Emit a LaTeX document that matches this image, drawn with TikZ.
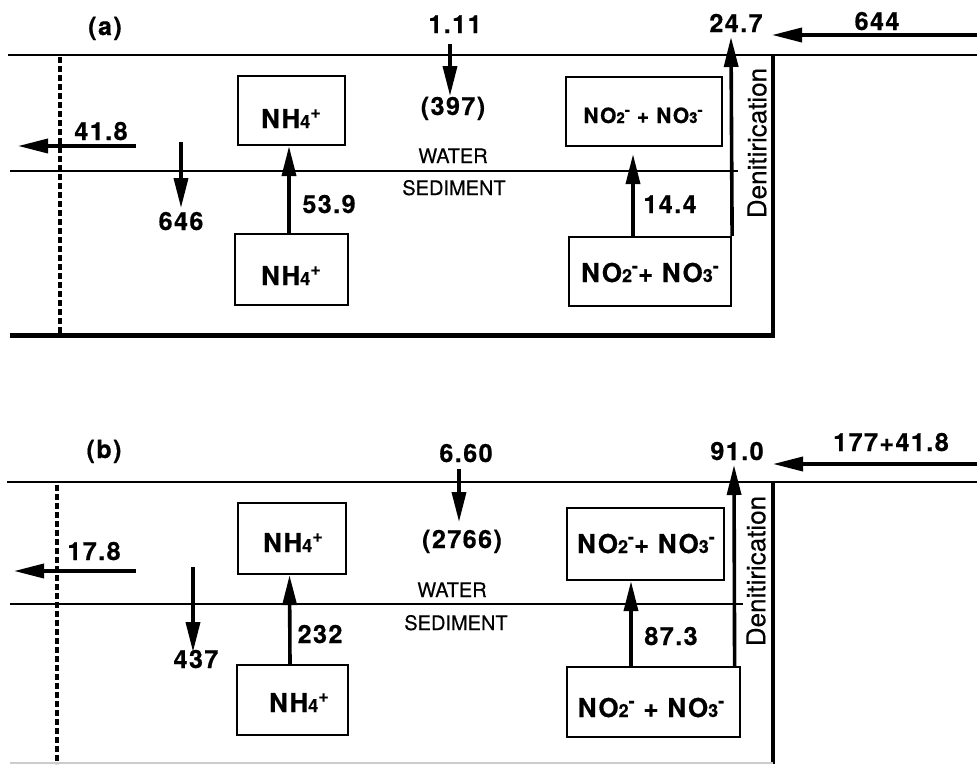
\documentclass[tikz,border=0pt]{standalone}
\usepackage{fontspec}
\setmainfont{TeX Gyre Heros}
\newfontfamily\lblfont[LetterSpace=6,FakeBold=0.6]{texgyreheros-bold.otf}
\newfontfamily\regfont[FakeBold=0.3]{texgyreheros-regular.otf}
\usetikzlibrary{arrows.meta}
\newcommand\smd[1]{{\fontsize{18pt}{18pt}\selectfont #1}}
\newcommand\sps[1]{\raisebox{10pt}{\fontsize{18pt}{18pt}\selectfont #1}}
\newcommand\smdS[1]{{\fontsize{15pt}{15pt}\selectfont #1}}
\newcommand\spsS[1]{\raisebox{8pt}{\fontsize{15pt}{15pt}\selectfont #1}}
\tikzset{
  num/.style={font=\lblfont\fontsize{25pt}{25pt}\selectfont, inner sep=0pt, anchor=base},
  chem/.style={font=\lblfont\fontsize{26pt}{26pt}\selectfont, inner sep=0pt, anchor=base},
  chemS/.style={font=\lblfont\fontsize{21pt}{21pt}\selectfont, inner sep=0pt, anchor=base},
  txt/.style={font=\regfont\fontsize{20pt}{20pt}\selectfont, inner sep=0pt, anchor=base},
  den/.style={font=\regfont\fontsize{26pt}{26pt}\selectfont, inner sep=0pt, rotate=90},
  boxn/.style={draw, line width=2.2pt, inner sep=0pt},
  flow/.style={line width=3.6pt, -{Triangle[length=30pt,width=14pt]}},
  surf/.style={line width=2.6pt},
  wline/.style={line width=2pt},
  bottom/.style={line width=5pt},
  wall/.style={line width=4pt},
  bound/.style={line width=3.2pt, dash pattern=on 6pt off 3pt},
}
\begin{document}
\begin{tikzpicture}[x=1pt,y=-1pt]
\useasboundingbox (0,0) rectangle (977,764);

% ================= panel (a) =================
\coordinate (aTL) at (8,55);
\coordinate (aTR) at (977,55);
\coordinate (aWT) at (773,55);
\coordinate (aWB) at (773,335);
\coordinate (aBL) at (10,335);
\coordinate (aWL) at (10,171);
\coordinate (aWR) at (738,171);
\coordinate (aDT) at (60,57);
\coordinate (aDB) at (60,335);
\draw[surf] (aTL) -- (aTR);
\draw[wall] (aWT) -- (aWB);
\draw[bottom] (aBL) -- ([xshift=2pt]aWB);
\draw[wline] (aWL) -- (aWR);
\draw[bound] (aDT) -- (aDB);

\node[boxn, minimum width=107pt, minimum height=69pt] (nhuA) at (291.5,110.5) {};
\node[boxn, minimum width=113pt, minimum height=71pt] (nhlA) at (291.5,269.5) {};
\node[boxn, minimum width=156pt, minimum height=69pt] (nouA) at (644,111.5) {};
\node[boxn, minimum width=162pt, minimum height=69pt] (nolA) at (650,271.5) {};

\node[chem] (tnhuA) at (291,128) {NH\smd{4}\sps{+}};
\node[chem] (tnhlA) at (291,285) {NH\smd{4}\sps{+}};
\node[chemS] (tnouA) at (643,123) {NO\smdS{2}\spsS{-} + NO\smdS{3}\spsS{-}};
\node[chem] (tnolA) at (650,282) {NO\smd{2}\sps{-}+ NO\smd{3}\sps{-}};

\node[num] (labA) at (105,35) {(a)};
\node[num] (n111) at (455,33) {1.11};
\node[num] (n397) at (453,115) {(397)};
\node[num] (n418) at (101,140) {41.8};
\node[num] (n646) at (181,230) {646};
\node[num] (n539) at (329,213) {53.9};
\node[num] (n144) at (670,213) {14.4};
\node[num] (n247) at (736,32) {24.7};
\node[num] (n644) at (877,30) {644};
\node[txt] (watA) at (453,163) {WATER};
\node[txt] (sedA) at (454,195) {SEDIMENT};
\node[den] (denA) at (757,143) {Denitirication};

\coordinate (a111s) at (450,44);
\coordinate (a111e) at (450,96);
\coordinate (a418s) at (136,146);
\coordinate (a418e) at (18,146);
\coordinate (a646s) at (181,142);
\coordinate (a646e) at (181,208);
\coordinate (a644s) at (977,35);
\coordinate (a644e) at (772,35);
\coordinate (a247e) at (731,37);
\draw[flow] (a111s) -- (a111e);
\draw[flow] (a418s) -- (a418e);
\draw[flow] (a646s) -- (a646e);
\draw[flow] ([xshift=-2.5pt]nhlA.north) -- ([xshift=-2.5pt]nhuA.south);
\draw[flow] ([xshift=-17pt]nolA.north) -- ([xshift=-11pt,yshift=-7pt]nouA.south);
\draw[flow] (nolA.north east) -- (a247e);
\draw[flow] (a644s) -- (a644e);

% ================= panel (b) =================
\coordinate (bTL) at (7,482);
\coordinate (bTR) at (977,482);
\coordinate (bWT) at (773,482);
\coordinate (bWB) at (773,764);
\coordinate (bBL) at (10,763);
\coordinate (bBR) at (773,763);
\coordinate (bWL) at (10,604);
\coordinate (bWR) at (743,604);
\coordinate (bDT) at (57,485);
\coordinate (bDB) at (57,764);
\draw[surf] (bTL) -- (bTR);
\draw[wall] (bWT) -- (bWB);
\draw[line width=2pt, gray!40] (bBL) -- (bBR);
\draw[wline] (bWL) -- (bWR);
\draw[bound] (bDT) -- (bDB);

\node[boxn, minimum width=108pt, minimum height=71pt] (nhuB) at (292,538.5) {};
\node[boxn, minimum width=111pt, minimum height=70pt] (nhlB) at (292.5,700) {};
\node[boxn, minimum width=157pt, minimum height=72pt] (nouB) at (645.5,544) {};
\node[boxn, minimum width=173pt, minimum height=70pt] (nolB) at (653.5,702) {};

\node[chem] (tnhuB) at (293,552) {NH\smd{4}\sps{+}};
\node[chem] (tnhlB) at (299,712) {NH\smd{4}\sps{+}};
\node[chem] (tnouB) at (646,553) {NO\smd{2}\sps{-}+ NO\smd{3}\sps{-}};
\node[chem] (tnolB) at (651,717) {NO\smd{2}\sps{-} + NO\smd{3}\sps{-}};

\node[num] (labB) at (104,458) {(b)};
\node[num] (n660) at (466,462) {6.60};
\node[num] (n2766) at (462,548) {(2766)};
\node[num] (n178) at (94,560) {17.8};
\node[num] (n437) at (196,668) {437};
\node[num] (n232) at (320,643) {232};
\node[num] (n873) at (671,645) {87.3};
\node[num] (n910) at (737,460) {91.0};
\node[num] (n177) at (891,451) {177+41.8};
\node[txt] (watB) at (452,597) {WATER};
\node[txt] (sedB) at (456,630) {SEDIMENT};
\node[den] (denB) at (756,571) {Denitirication};

\coordinate (b660s) at (459,469);
\coordinate (b660e) at (459,522);
\coordinate (b178s) at (136,571);
\coordinate (b178e) at (14,571);
\coordinate (b437s) at (193,567);
\coordinate (b437e) at (193,652);
\coordinate (b177s) at (977,464);
\coordinate (b177e) at (773,464);
\coordinate (b910e) at (734,465);
\draw[flow] (b660s) -- (b660e);
\draw[flow] (b178s) -- (b178e);
\draw[flow] (b437s) -- (b437e);
\draw[flow] ([xshift=-2.5pt]nhlB.north) -- ([xshift=-2.5pt]nhuB.south);
\draw[flow] ([xshift=-22.5pt]nolB.north) -- ([xshift=-14.5pt]nouB.south);
\draw[flow] ([xshift=-6.5pt]nolB.north east) -- (b910e);
\draw[flow] (b177s) -- (b177e);
\end{tikzpicture}
\end{document}
